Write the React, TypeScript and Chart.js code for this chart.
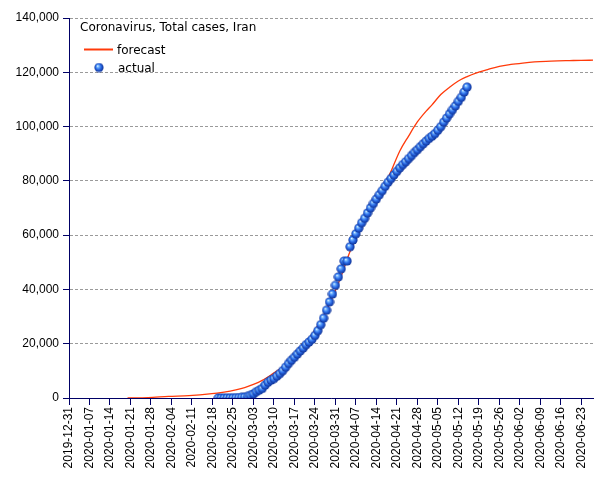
import React, { useEffect, useRef } from 'react';
import { Chart, registerables } from 'chart.js';

Chart.register(...registerables);

const TITLE = 'Coronavirus, Total cases, Iran';
const FORECAST_LABEL = 'forecast';
const ACTUAL_LABEL = 'actual';

const AXIS_START = '2019-12-31';
const AXIS_END = '2020-06-27';

const tickLabels = [
  '2019-12-31', '2020-01-07', '2020-01-14', '2020-01-21', '2020-01-28', '2020-02-04',
  '2020-02-11', '2020-02-18', '2020-02-25', '2020-03-03', '2020-03-10', '2020-03-17',
  '2020-03-24', '2020-03-31', '2020-04-07', '2020-04-14', '2020-04-21', '2020-04-28',
  '2020-05-05', '2020-05-12', '2020-05-19', '2020-05-26', '2020-06-02', '2020-06-09',
  '2020-06-16', '2020-06-23',
];

const Y_MAX = 140000;
const Y_STEP = 20000;

// actual: daily values starting at ACTUAL_START
const ACTUAL_START = '2020-02-20';
const actualValues = [
  2, 5, 18, 28, 43, 61, 95, 139, 245, 388,
  593, 978, 1501, 2336, 2922, 3513, 4747, 5823, 6566, 7161,
  8042, 9000, 10075, 11364, 12729, 13938, 14991, 16169, 17361, 18407,
  19644, 20610, 21638, 23049, 24811, 27017, 29406, 32332, 35408, 38309,
  41495, 44605, 47593, 50468, 50468, 55743, 58226, 60500, 62589, 64586,
  66220, 68192, 70029, 71686, 73303, 74877, 76389, 77995, 79494, 80868,
  82211, 83505, 84802, 85996, 87026, 88194, 89328, 90481, 91472, 92584,
  93657, 94640, 95646, 96448, 97424, 98647, 99970, 101650, 103135, 104691,
  106220, 107603, 109286, 110767, 112725, 114533,
];

const forecastDates = [
  '2020-01-20', '2020-01-27', '2020-02-03', '2020-02-10', '2020-02-17', '2020-02-22',
  '2020-02-26', '2020-02-29', '2020-03-03', '2020-03-06', '2020-03-09', '2020-03-13',
  '2020-03-17', '2020-03-21', '2020-03-24', '2020-03-27', '2020-03-30', '2020-04-02',
  '2020-04-05', '2020-04-08', '2020-04-11', '2020-04-14', '2020-04-17', '2020-04-19',
  '2020-04-22', '2020-04-25', '2020-04-28', '2020-05-01', '2020-05-03', '2020-05-06',
  '2020-05-09', '2020-05-12', '2020-05-15', '2020-05-18', '2020-05-22', '2020-05-26',
  '2020-05-30', '2020-06-03', '2020-06-07', '2020-06-11', '2020-06-15', '2020-06-19',
  '2020-06-23', '2020-06-27',
];
const forecastValues = [
  50, 150, 600, 900, 1500, 2200,
  3000, 3800, 5000, 6500, 8500, 11500,
  15500, 20500, 25000, 30500, 37000, 45000,
  54000, 61000, 67000, 73000, 79000, 83500,
  91000, 96500, 101700, 105700, 108000, 111800,
  114500, 116800, 118400, 119700, 121000, 122200,
  122900, 123400, 123800, 124050, 124200, 124300,
  124400, 124450,
];

const DAY_MS = 86400000;
const dayOf = (d: string) => Math.round((Date.parse(d) - Date.parse(AXIS_START)) / DAY_MS);

const AXIS_COLOR = '#000066';
const GRID_COLOR = '#9a9a9a';
const FORECAST_COLOR = '#ff3a0a';

function makeSphere(): HTMLCanvasElement {
  const c = document.createElement('canvas');
  c.width = 10;
  c.height = 10;
  const g = c.getContext('2d')!;
  const grad = g.createRadialGradient(3.6, 3.4, 0.2, 5, 5, 4.8);
  grad.addColorStop(0, '#e6f6ff');
  grad.addColorStop(0.22, '#6fb4ff');
  grad.addColorStop(0.55, '#2a6ae6');
  grad.addColorStop(1, '#0a2a8c');
  g.fillStyle = grad;
  g.beginPath();
  g.arc(5, 5, 4.6, 0, Math.PI * 2);
  g.fill();
  return c;
}

export default function App() {
  const ref = useRef<HTMLCanvasElement | null>(null);

  useEffect(() => {
    if (!ref.current) return;
    const sphere = makeSphere();
    const start = dayOf(ACTUAL_START);
    const actualData = actualValues.map((v, i) => ({ x: start + i, y: v }));
    const forecastData = forecastDates.map((d, i) => ({ x: dayOf(d), y: forecastValues[i] }));
    const tickDays = tickLabels.map(dayOf);

    const legendPlugin = {
      id: 'insideLegend',
      afterDraw(chart: any) {
        const ctx = chart.ctx as CanvasRenderingContext2D;
        ctx.save();
        ctx.fillStyle = '#000';
        ctx.font = '12px "DejaVu Sans"';
        ctx.textBaseline = 'alphabetic';
        ctx.textAlign = 'left';
        ctx.fillText(TITLE, 80, 31);
        ctx.strokeStyle = FORECAST_COLOR;
        ctx.lineWidth = 2;
        ctx.beginPath();
        ctx.moveTo(84, 49.5);
        ctx.lineTo(113, 49.5);
        ctx.stroke();
        ctx.fillText(FORECAST_LABEL, 117, 54);
        ctx.drawImage(sphere, 99 - 5, 67.5 - 5);
        ctx.fillText(ACTUAL_LABEL, 118, 72);
        ctx.restore();
      },
    };

    const chart = new Chart(ref.current, {
      type: 'line',
      data: {
        datasets: [
          {
            label: ACTUAL_LABEL,
            data: actualData,
            showLine: false,
            pointStyle: sphere as any,
            pointRadius: 5,
            order: 1,
          },
          {
            label: FORECAST_LABEL,
            data: forecastData,
            borderColor: FORECAST_COLOR,
            borderWidth: 1.3,
            pointRadius: 0,
            cubicInterpolationMode: 'monotone',
            fill: false,
            order: 2,
          },
        ],
      },
      options: {
        animation: false,
        responsive: false,
        devicePixelRatio: 1,
        layout: { padding: { left: 0, top: 18, right: 12, bottom: 0 } },
        plugins: { legend: { display: false }, tooltip: { enabled: false } },
        scales: {
          x: {
            type: 'linear',
            min: 0,
            max: dayOf(AXIS_END),
            afterBuildTicks: (scale: any) => {
              scale.ticks = tickDays.map((v) => ({ value: v }));
            },
            afterFit: (scale: any) => {
              scale.height = 82;
            },
            ticks: {
              autoSkip: false,
              minRotation: 90,
              maxRotation: 90,
              padding: 2,
              color: '#000',
              font: { family: '"Liberation Sans"', size: 12 },
              callback: (_v: any, i: number) => tickLabels[i],
            },
            grid: {
              drawOnChartArea: false,
              drawTicks: true,
              tickLength: 7,
              tickColor: AXIS_COLOR,
              color: AXIS_COLOR,
            },
            border: { display: true, color: AXIS_COLOR, width: 1 },
          },
          y: {
            min: 0,
            max: Y_MAX,
            afterFit: (scale: any) => {
              scale.width = 69;
            },
            ticks: {
              stepSize: Y_STEP,
              padding: 4,
              color: '#000',
              font: { family: '"Liberation Sans"', size: 12 },
            },
            grid: {
              color: GRID_COLOR,
              tickColor: AXIS_COLOR,
              tickLength: 6,
              tickBorderDash: [1, 0],
              lineWidth: 1,
            },
            border: { display: true, color: AXIS_COLOR, width: 1, dash: [3, 2] },
          },
        },
      },
      plugins: [legendPlugin],
    } as any);

    return () => chart.destroy();
  }, []);

  return (
    <div style={{ position: 'absolute', left: 0, top: 0, width: 605, height: 480, background: '#fff' }}>
      <canvas ref={ref} width={605} height={480} style={{ width: 605, height: 480 }} />
    </div>
  );
}
